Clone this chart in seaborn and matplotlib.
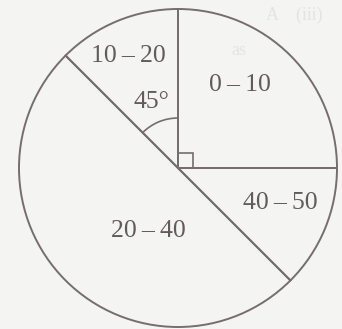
import numpy as np
import matplotlib
matplotlib.use("Agg")
import matplotlib.pyplot as plt
from matplotlib.patches import Arc, Rectangle
import seaborn as sns

# class intervals and their sector angles (degrees)
categories = ["0\u2009\u2013\u200910", "10\u2009\u2013\u200920", "20\u2009\u2013\u200940", "40\u2009\u2013\u200950"]
angles = [90, 45, 180, 45]
angle_label = "45\u00b0"

# label placement: (radius fraction, polar angle in degrees)
label_pos = [(0.65, 53), (0.77, 114), (0.44, 245), (0.68, -19)]

sns.set_theme(style="white")
plt.rcParams["font.family"] = ["Liberation Serif", "DejaVu Serif"]

line_col = "#766d6d"
text_col = "#635a5a"
bg_col = "#f4f4f3"
ghost_col = "#e4e4e3"

fig = plt.figure(figsize=(3.42, 3.29), dpi=100, facecolor=bg_col)
ax = fig.add_axes([0, 0, 1, 1])
ax.set_facecolor(bg_col)

# faint show-through text from the other side of the page
ax.text(0.91, 0.96, "A    (iii)", fontsize=13, color=ghost_col,
        ha="right", va="center", zorder=0)
ax.text(0.38, 0.74, "as", fontsize=13, color=ghost_col,
        ha="center", va="center", zorder=0)

wedges, _ = ax.pie(
    angles,
    startangle=0,
    counterclock=True,
    radius=1.0,
    wedgeprops=dict(fill=False, edgecolor=line_col, linewidth=1.4),
)

for name, (r, a) in zip(categories, label_pos):
    t = np.deg2rad(a)
    ax.text(r * np.cos(t), r * np.sin(t), name, fontsize=18.5, color=text_col,
            ha="center", va="center")

# 45 degree angle arc and right-angle marker
R = 159.0
ax.add_patch(Arc((0, 0), 2 * 50 / R, 2 * 50 / R, theta1=90, theta2=135,
                 color=line_col, linewidth=1.2))
ax.text(-0.17, 0.415, angle_label, fontsize=18.5, color=text_col, ha="center", va="center")
sq = 15 / R
ax.add_patch(Rectangle((0, 0), sq, sq, fill=False, edgecolor=line_col, linewidth=1.2))

ax.set_xlim(-178 / R, (342 - 178) / R)
ax.set_ylim(-(329 - 168) / R, 168 / R)
ax.set_aspect("equal")
ax.axis("off")

fig.savefig("out.png", dpi=100, facecolor=bg_col)
